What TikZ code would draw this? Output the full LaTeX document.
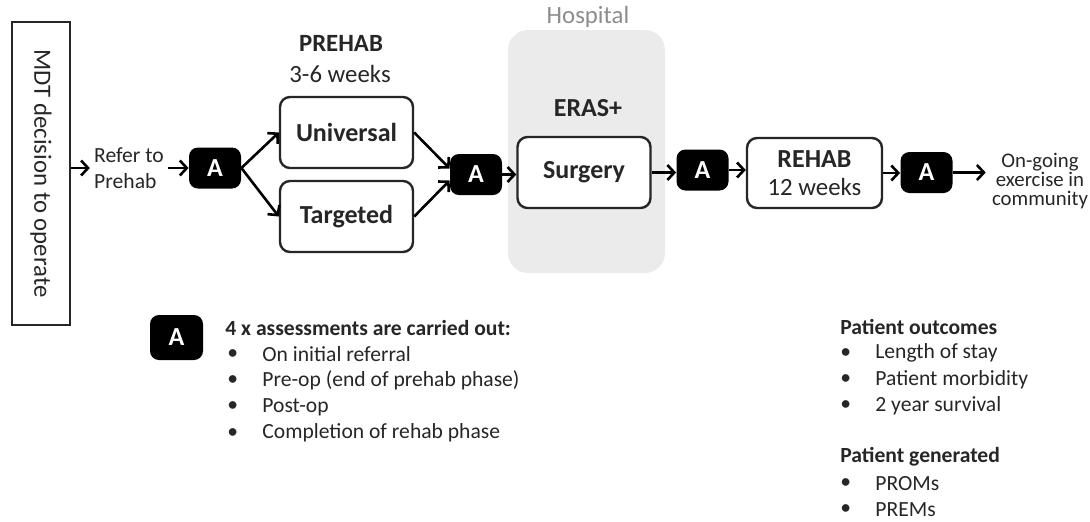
\documentclass[tikz,border=0pt]{standalone}
\usepackage{fontspec}
\setmainfont{Carlito}
\usetikzlibrary{arrows.meta,positioning}

\newcommand{\mainsize}{\fontsize{12.4}{14}\selectfont}
\newcommand{\boxsize}{\fontsize{13}{14}\selectfont}
\newcommand{\smallsize}{\fontsize{10.8}{13}\selectfont}

\tikzset{
    stage/.style={draw=black!85, line width=1.2pt, rounded corners=5pt, fill=white,
        minimum width=66.5pt, minimum height=35.5pt, font=\bfseries\boxsize, align=center},
    assess/.style={fill=black, rounded corners=4.5pt, minimum width=26pt, minimum height=20.5pt,
        inner sep=0pt, text=white, font=\bfseries\boxsize},
    flow/.style={line width=1.3pt, -{Straight Barb[length=3.5pt,width=7.5pt]}},
    note/.style={font=\smallsize, text=black!85, inner sep=0pt},
}

\begin{document}
\begin{tikzpicture}[x=0.5pt, y=-0.5pt, text=black!85]
    \useasboundingbox (0,0) rectangle (1090,521);

    % Hospital area
    \fill[black!8, rounded corners=10pt] (508,30) rectangle (665,273);
    \node[font=\mainsize, text=black!45] (hosp) at (588,17) {Hospital};
    \node[font=\bfseries\boxsize] (eras) at (588,108) {ERAS+};

    % Decision and referral
    \node[draw=black!85, line width=1.2pt, rotate=-90, minimum width=151.5pt, minimum height=29pt,
        font=\mainsize] (mdt) at (41,173.5) {MDT decision to operate};
    \node[note, align=left] (refer) at (129,168) {Refer to\\Prehab};

    % Pathway
    \node[assess] (a1) at (215,168) {A};
    \node[font=\bfseries\mainsize] (prehab) at (341,43) {PREHAB};
    \node[font=\mainsize] (weeks) at (340,74) {3-6 weeks};
    \node[stage] (univ) at (346.5,132.5) {Universal};
    \node[stage] (targ) at (346.5,216.5) {Targeted};
    \node[assess] (a2) at (476,174.5) {A};
    \node[stage] (surg) at (584,172.5) {Surgery};
    \node[assess] (a3) at (702.5,170) {A};
    \node[stage, minimum width=67.5pt, minimum height=35pt] (rehab) at (814.5,173) {REHAB\\\mdseries\mainsize 12 weeks};
    \node[assess] (a4) at (926.5,172.5) {A};
    \node[note, align=center, font={\fontsize{10.4}{9.5}\selectfont}] (ongoing) at (1040,181) {On-going\\exercise in\\community};

    % Arrows
    \draw[flow] (mdt.north |- refer.west) -- ([xshift=-2pt]refer.west);
    \draw[flow] ([xshift=2pt]refer.east) -- (a1.west);
    \draw[flow] (a1.east) -- (univ.west);
    \draw[flow] (a1.east) -- (targ.west);
    \draw[flow] (univ.east) -- ([yshift=3pt]a2.west);
    \draw[flow] (targ.east) -- ([yshift=-3pt]a2.west);
    \draw[flow] (a2.east) -- (a2.east -| surg.west);
    \draw[flow] (surg.east) -- (surg.east -| a3.west);
    \draw[flow] (a3.east) -- (a3.east -| rehab.west);
    \draw[flow] (rehab.east) -- (rehab.east -| a4.west);
    \draw[flow] (a4.east) -- ([xshift=-3pt]a4.east -| ongoing.west);

    % Key
    \node[assess, minimum width=26.5pt, minimum height=22.5pt] (akey) at (176.5,337.5) {A};
    \node[note, anchor=west, font=\bfseries\smallsize] (keyhead) at (225,328) {4 x assessments are carried out:};
    \foreach \txt [count=\i] in {On initial referral, Pre-op (end of prehab phase), Post-op, Completion of rehab phase} {
        \node[note, anchor=west] (keyb\i) at (227,328+26.3*\i) {\textbullet};
        \node[note, anchor=west] (key\i) at (262,328+26.3*\i) {\txt};
    }

    % Outcomes
    \node[note, anchor=west, font=\bfseries\smallsize] (outhead) at (840,327) {Patient outcomes};
    \foreach \txt [count=\i] in {Length of stay, Patient morbidity, 2 year survival} {
        \node[note, anchor=west] (outb\i) at (840,327+26.2*\i) {\textbullet};
        \node[note, anchor=west] (out\i) at (875,327+26.2*\i) {\txt};
    }
    \node[note, anchor=west, font=\bfseries\smallsize] (genhead) at (840,457) {Patient generated};
    \foreach \txt [count=\i] in {PROMs, PREMs} {
        \node[note, anchor=west] (genb\i) at (840,457+26.5*\i) {\textbullet};
        \node[note, anchor=west] (gen\i) at (875,457+26.5*\i) {\txt};
    }
\end{tikzpicture}
\end{document}
